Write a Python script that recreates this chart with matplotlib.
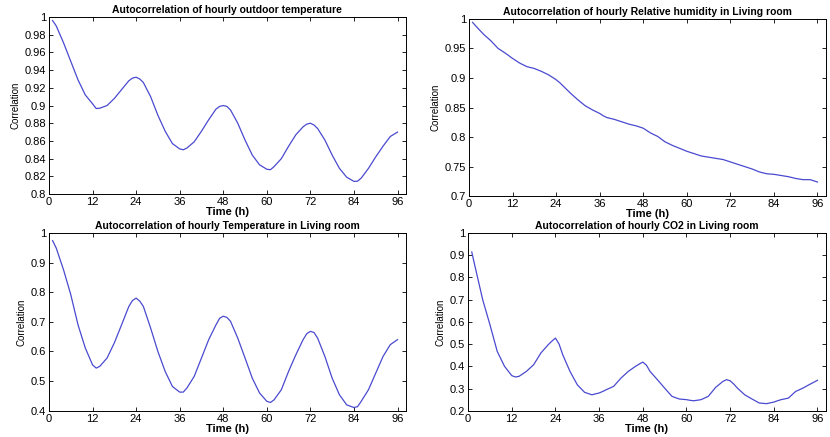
import matplotlib
matplotlib.use("Agg")
import matplotlib.pyplot as plt

plt.rcParams['font.family'] = ['Liberation Sans', 'DejaVu Sans']

# lag in hours
lags = [1, 2, 4, 6, 8, 10, 12, 13, 14, 16, 18, 20, 22, 23, 24, 25, 26, 28, 30,
        32, 34, 36, 37, 38, 40, 42, 44, 46, 47, 48, 49, 50, 52, 54, 56, 58,
        60, 61, 62, 64, 66, 68, 70, 71, 72, 73, 74, 76, 78, 80, 82, 84, 85,
        86, 88, 90, 92, 94, 96]

outdoor_temp = [0.996, 0.990, 0.971, 0.950, 0.929, 0.912, 0.902, 0.8966, 0.897,
                0.900, 0.908, 0.918, 0.928, 0.931, 0.932, 0.930, 0.926, 0.910,
                0.889, 0.871, 0.857, 0.851, 0.850, 0.852, 0.859, 0.871, 0.884,
                0.896, 0.899, 0.900, 0.899, 0.895, 0.880, 0.861, 0.844, 0.833,
                0.828, 0.8275, 0.831, 0.840, 0.854, 0.867, 0.876, 0.879, 0.880,
                0.878, 0.874, 0.861, 0.844, 0.829, 0.819, 0.8143, 0.8145, 0.818,
                0.829, 0.842, 0.854, 0.865, 0.870]

living_rh = [0.994, 0.987, 0.974, 0.963, 0.950, 0.942, 0.933, 0.929, 0.925,
             0.919, 0.916, 0.911, 0.905, 0.901, 0.897, 0.892, 0.886, 0.874,
             0.863, 0.853, 0.846, 0.840, 0.836, 0.833, 0.830, 0.826, 0.822,
             0.819, 0.817, 0.815, 0.811, 0.807, 0.801, 0.792, 0.786, 0.781,
             0.776, 0.774, 0.772, 0.768, 0.766, 0.764, 0.762, 0.760, 0.758,
             0.756, 0.754, 0.750, 0.746, 0.741, 0.738, 0.737, 0.736, 0.735,
             0.733, 0.730, 0.728, 0.728, 0.724]

living_temp = [0.974, 0.949, 0.876, 0.792, 0.690, 0.612, 0.555, 0.544, 0.550,
               0.578, 0.629, 0.690, 0.752, 0.772, 0.780, 0.770, 0.752, 0.679,
               0.600, 0.533, 0.482, 0.463, 0.463, 0.477, 0.516, 0.578, 0.640,
               0.690, 0.712, 0.719, 0.715, 0.702, 0.645, 0.578, 0.510, 0.460,
               0.432, 0.428, 0.437, 0.471, 0.533, 0.589, 0.640, 0.660, 0.668,
               0.664, 0.645, 0.583, 0.510, 0.454, 0.420, 0.411, 0.414, 0.432,
               0.471, 0.527, 0.583, 0.623, 0.640]

living_co2 = [0.914, 0.842, 0.700, 0.587, 0.467, 0.400, 0.358, 0.352, 0.355,
              0.377, 0.407, 0.460, 0.497, 0.513, 0.527, 0.500, 0.452, 0.377,
              0.317, 0.283, 0.272, 0.280, 0.287, 0.295, 0.310, 0.347, 0.377,
              0.400, 0.410, 0.419, 0.405, 0.377, 0.340, 0.302, 0.265, 0.253,
              0.250, 0.247, 0.245, 0.250, 0.265, 0.305, 0.332, 0.340, 0.335,
              0.320, 0.302, 0.272, 0.253, 0.235, 0.232, 0.239, 0.245, 0.250,
              0.257, 0.287, 0.302, 0.320, 0.337]

panels = [
    ("Autocorrelation of hourly outdoor temperature", outdoor_temp,
     (0.8, 1.0), [0.8, 0.82, 0.84, 0.86, 0.88, 0.9, 0.92, 0.94, 0.96, 0.98, 1],
     [0.059, 0.556, 0.430, 0.405]),
    ("Autocorrelation of hourly Relative humidity in Living room", living_rh,
     (0.7, 1.0), [0.7, 0.75, 0.8, 0.85, 0.9, 0.95, 1],
     [0.565, 0.551, 0.430, 0.406]),
    ("Autocorrelation of hourly Temperature in Living room", living_temp,
     (0.4, 1.0), [0.4, 0.5, 0.6, 0.7, 0.8, 0.9, 1],
     [0.059, 0.060, 0.430, 0.407]),
    ("Autocorrelation of hourly CO2 in Living room", living_co2,
     (0.2, 1.0), [0.2, 0.3, 0.4, 0.5, 0.6, 0.7, 0.8, 0.9, 1],
     [0.564, 0.060, 0.431, 0.407]),
]

fig = plt.figure(figsize=(8.3, 4.37), dpi=100)
for title, vals, ylim, yticks, rect in panels:
    ax = fig.add_axes(rect)
    ax.plot(lags, vals, color='#4a4ad0', lw=0.9)
    ax.set_xlim(0, 98.3)
    ax.set_ylim(*ylim)
    ax.set_xticks(range(0, 97, 12))
    ax.set_yticks(yticks)
    ax.set_yticklabels([f"{t:g}" for t in yticks])
    ax.tick_params(direction='in', length=3, width=0.6, labelsize=8,
                   top=True, right=True, pad=2)
    for s in ax.spines.values():
        s.set_linewidth(0.7)
    ax.set_title(title, fontsize=7.5, fontweight='bold', pad=3)
    ax.set_xlabel("Time (h)", fontsize=8, fontweight='bold', labelpad=0)
    ax.set_ylabel("Correlation", fontsize=7, fontstretch='condensed', labelpad=3)

fig.savefig("out.png", dpi=100)
